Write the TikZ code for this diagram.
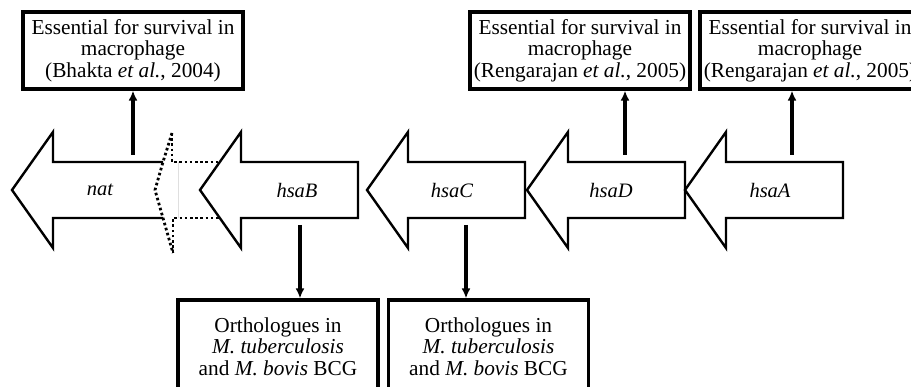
\documentclass[tikz,border=0pt]{standalone}
\usepackage{fontspec}
\setmainfont{Liberation Serif}
\usetikzlibrary{arrows.meta}
\tikzset{
  gene/.style={line width=2.4pt, fill=white, line join=miter},
  genelbl/.style={font=\fontsize{20.5}{22}\selectfont\itshape, inner sep=0pt},
  infobox/.style={draw, line width=3.2pt, minimum width=220pt, align=center,
    font=\fontsize{21.3}{21.5}\selectfont, inner sep=0pt},
  link/.style={line width=3.2pt, -{Latex[length=10pt,width=9pt]}},
  brk/.style={line width=2.8pt, dash pattern=on 2.6pt off 2.6pt},
}
\begin{document}
\begin{tikzpicture}[x=1pt,y=-1pt]
\useasboundingbox (0,0) rectangle (911,387);
\clip (0,0) rectangle (911,387);
% broken nat gene
\draw[gene] (163,162) -- (53,162) -- (53,132) -- (12,190) -- (53,248) -- (53,218) -- (163,218);
\draw[gray!25, line width=1pt] (178,162) -- (178,218);
\draw[brk] (172,133) -- (163,162) -- (155,190) -- (163,218) -- (173,253);
\draw[brk] (172,133) -- (172,162) -- (242,162);
\draw[brk] (173,253) -- (173,218) -- (242,218);
% genes
\foreach \t in {200,367,527,685}{
  \draw[gene] (\t,190) -- (\t+41,132) -- (\t+41,162) -- (\t+158,162) -- (\t+158,218)
    -- (\t+41,218) -- (\t+41,248) -- cycle;
}
\node[genelbl] (nat) at (100,190) {nat};
\node[genelbl] (hsaB) at (297,190) {hsaB};
\node[genelbl] (hsaC) at (452,190) {hsaC};
\node[genelbl] (hsaD) at (611,190) {hsaD};
\node[genelbl] (hsaA) at (770,190) {hsaA};
% anchor points on genes
\coordinate (natTop) at (133,155);
\coordinate (hsaDTop) at (625,155);
\coordinate (hsaATop) at (792,155);
\coordinate (hsaBBot) at (300,225);
\coordinate (hsaCBot) at (466,225);
% boxes
\node[infobox, minimum height=77pt] (ess1) at (133,50.5)
  {Essential for survival in\\macrophage\\(Bhakta \textit{et al.}, 2004)};
\node[infobox, minimum height=77pt] (ess2) at (580,50.5)
  {Essential for survival in\\macrophage\\(Rengarajan \textit{et al.}, 2005)};
\node[infobox, minimum height=77pt] (ess3) at (810,50.5)
  {Essential for survival in\\macrophage\\(Rengarajan \textit{et al.}, 2005)};
\node[infobox, minimum width=200pt, minimum height=93pt] (orth1) at (278,346.5)
  {Orthologues in\\\textit{M. tuberculosis}\\and \textit{M. bovis} BCG};
\node[infobox, minimum width=200pt, minimum height=93pt] (orth2) at (488.5,346.5)
  {Orthologues in\\\textit{M. tuberculosis}\\and \textit{M. bovis} BCG};
% connectors
\draw[link] (natTop) -- (natTop |- ess1.south);
\draw[link] (hsaDTop) -- (hsaDTop |- ess2.south);
\draw[link] (hsaATop) -- (hsaATop |- ess3.south);
\draw[link] (hsaBBot) -- (hsaBBot |- orth1.north);
\draw[link] (hsaCBot) -- (hsaCBot |- orth2.north);
\end{tikzpicture}
\end{document}
